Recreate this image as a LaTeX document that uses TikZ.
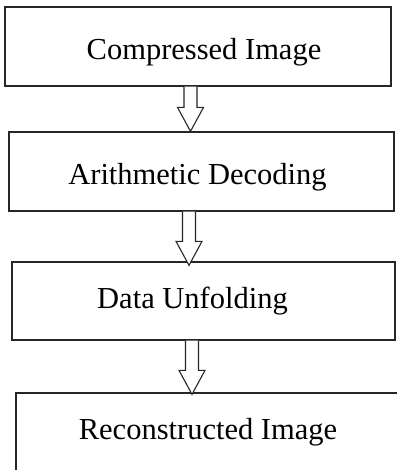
\documentclass[tikz,border=0pt]{standalone}
\usepackage{fontspec}
\setmainfont{Liberation Serif}
\usetikzlibrary{calc}
\tikzset{
	stagebox/.style={draw=black!85,line width=1.3pt,fill=white,rectangle,inner sep=0pt,
		minimum width=#1,minimum height=79pt,text depth=0pt,
		font=\fontsize{30.5}{36}\selectfont},
	stagebox/.default=385pt,
	hollowarrow/.style={draw=black!85,line width=1.1pt,fill=white,line join=miter}
}
\newcommand{\hollowarrow}[2]{
	% shaft from (#1) down to the head, head tip on (#2)
	\draw[hollowarrow] ($(#1)+(-6.5,0)$) -- ($(#2)+(-6.5,-24)$) -- ($(#2)+(-13,-24)$) -- (#2)
		-- ($(#2)+(13,-24)$) -- ($(#2)+(6.5,-24)$) -- ($(#1)+(6.5,0)$);
}
\begin{document}
\begin{tikzpicture}[x=1pt,y=-1pt]
	\useasboundingbox (0,0) rectangle (396,470);
	%Centres of the four stages
	\coordinate (center1) at (198.0,46.5);
	\coordinate (center2) at (201.5,171.5);
	\coordinate (center3) at (203.5,301.0);
	\coordinate (center4) at (208.0,432.5);
	%Vertical line through the arrows
	\coordinate (axis) at (190.5,0);
	%The stages
	\node [stagebox=386pt,text height=27pt] (box1) at (center1) {\hspace{12pt}Compressed Image};
	\node [stagebox=385pt,text height=27pt] (box2) at (center2) {\hspace{-8pt}Arithmetic Decoding};
	\node [stagebox=383pt,minimum height=78pt,text height=14pt] (box3) at (center3) {\hspace{-22pt}Data Unfolding};
	\node [stagebox=384pt,text height=13pt] (box4) at (center4) {Reconstructed Image};
	%Hollow arrows between the stages
	\coordinate (out1) at (box1.south -| axis);
	\coordinate (in2) at (box2.north -| axis);
	\coordinate (out2) at ($(box2.south -| axis)+(-1.5,0)$);
	\coordinate (in3) at ($(box3.north -| axis)+(-1.5,4)$);
	\coordinate (out3) at ($(box3.south -| axis)+(1.5,0)$);
	\coordinate (in4) at ($(box4.north -| axis)+(1.5,2)$);
	\hollowarrow{out1}{in2}
	\hollowarrow{out2}{in3}
	\hollowarrow{out3}{in4}
\end{tikzpicture}
\end{document}
